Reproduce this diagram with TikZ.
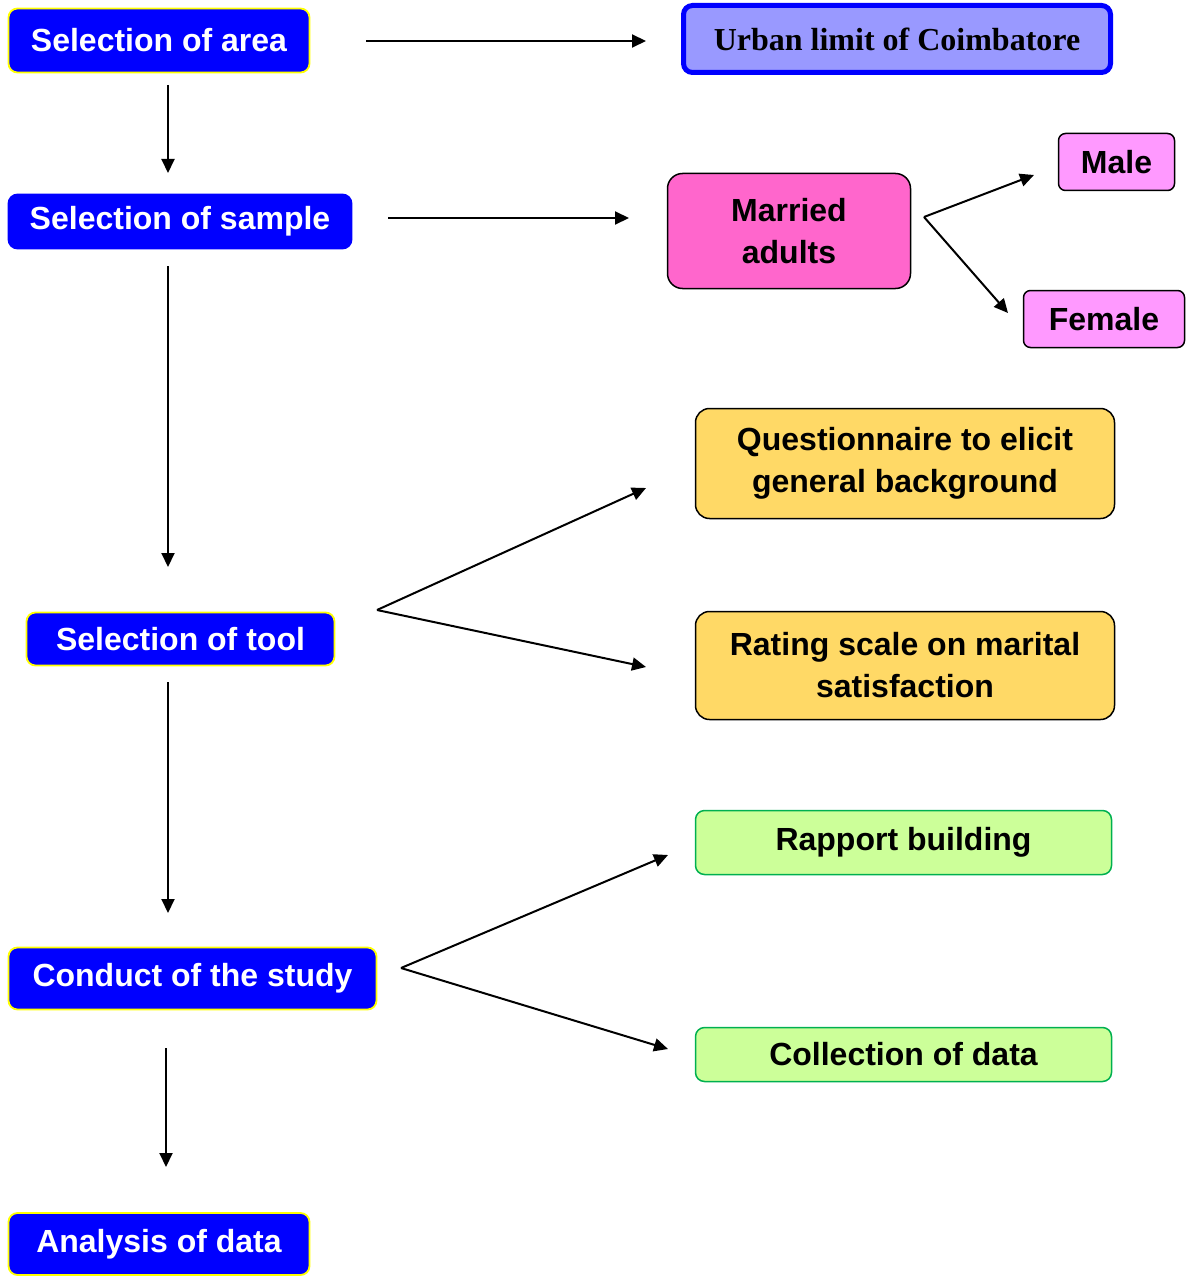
\documentclass[tikz,border=0pt]{standalone}
\usepackage{fontspec}
\setmainfont{Liberation Sans}
\newfontfamily\timesfont{Liberation Serif}
\usetikzlibrary{arrows.meta}
\definecolor{pblue}{HTML}{0000FF}
\definecolor{pyellow}{HTML}{FFFF00}
\definecolor{urbanfill}{HTML}{9999FF}
\definecolor{marriedfill}{HTML}{FF66CC}
\definecolor{sexfill}{HTML}{FF99FF}
\definecolor{toolfill}{HTML}{FFD966}
\definecolor{greenfill}{HTML}{CCFF99}
\definecolor{greenline}{HTML}{00B050}
\tikzset{
  base/.style={rounded corners=9pt, inner sep=0pt, align=center,
    font=\fontsize{32}{42}\selectfont\bfseries},
  stepblue/.style={base, fill=pblue, draw=pyellow, line width=1.8pt, text=white},
  stepbluenb/.style={base, fill=pblue, draw=pblue, line width=1.8pt, text=white},
  urbanbox/.style={base, fill=urbanfill, draw=pblue, line width=5pt,
    font=\fontsize{32}{42}\selectfont\timesfont\bfseries},
  marriedbox/.style={base, fill=marriedfill, draw=black, line width=1.5pt, rounded corners=15pt},
  sexbox/.style={base, fill=sexfill, draw=black, line width=1.5pt, rounded corners=7pt},
  toolbox/.style={base, fill=toolfill, draw=black, line width=1.5pt, rounded corners=14pt},
  greenbox/.style={base, fill=greenfill, draw=greenline, line width=1.5pt},
  conn/.style={line width=2pt, -{Triangle[length=14pt,width=13pt]}}
}
\begin{document}
\begin{tikzpicture}[x=1pt,y=-1pt]
\useasboundingbox (0,0) rectangle (1187,1276);
% left column
\node[stepblue, minimum width=301pt, minimum height=64pt] (area) at (159,40.5) {Selection of area};
\node[stepbluenb, minimum width=343pt, minimum height=54pt] (sample) at (180,221.5) {Selection of sample};
\node[stepblue, minimum width=308pt, minimum height=53pt] (tool) at (180.5,639) {Selection of tool};
\node[stepblue, minimum width=368pt, minimum height=62pt] (conduct) at (192.5,978.5) {Conduct of the study};
\node[stepblue, minimum width=301pt, minimum height=62pt] (analysis) at (159,1244) {Analysis of data};
% right side
\node[urbanbox, minimum width=427pt, minimum height=67pt] (urban) at (897,39) {Urban limit of Coimbatore};
\node[marriedbox, minimum width=243pt, minimum height=115pt] (married) at (789,231) {Married\\adults};
\node[sexbox, minimum width=116pt, minimum height=57pt] (male) at (1116.5,162) {Male};
\node[sexbox, minimum width=161pt, minimum height=57pt] (female) at (1104,319) {Female};
\node[toolbox, minimum width=419pt, minimum height=110pt] (quest) at (905,463.5) {Questionnaire to elicit\\general background};
\node[toolbox, minimum width=419pt, minimum height=108pt] (rating) at (905,665.5) {Rating scale on marital\\satisfaction};
\node[greenbox, minimum width=416pt, minimum height=64pt] (rapport) at (903.5,842.5) {Rapport building};
\node[greenbox, minimum width=416pt, minimum height=54pt] (collect) at (903.5,1054.5) {Collection of data};
% connector end points
\coordinate (a1) at (366,41);   \coordinate (a2) at (646,41);
\coordinate (v1s) at (168,85);  \coordinate (v1e) at (168,173);
\coordinate (s1) at (388,218);  \coordinate (s2) at (629,218);
\coordinate (v2s) at (168,266); \coordinate (v2e) at (168,567);
\coordinate (mfork) at (924,217);
\coordinate (mm) at (1034,175); \coordinate (mf) at (1008,313);
\coordinate (tfork) at (377,610);
\coordinate (tq) at (646,488);  \coordinate (tr) at (646,667);
\coordinate (v3s) at (168,682); \coordinate (v3e) at (168,913);
\coordinate (cfork) at (401,968);
\coordinate (cr) at (668,855);  \coordinate (cc) at (668,1049);
\coordinate (v4s) at (166,1048); \coordinate (v4e) at (166,1167);
% connectors
\draw[conn] (a1) -- (a2);
\draw[conn] (v1s) -- (v1e);
\draw[conn] (s1) -- (s2);
\draw[conn] (v2s) -- (v2e);
\draw[conn] (mfork) -- (mm);
\draw[conn] (mfork) -- (mf);
\draw[conn] (tfork) -- (tq);
\draw[conn] (tfork) -- (tr);
\draw[conn] (v3s) -- (v3e);
\draw[conn] (cfork) -- (cr);
\draw[conn] (cfork) -- (cc);
\draw[conn] (v4s) -- (v4e);
\end{tikzpicture}
\end{document}
